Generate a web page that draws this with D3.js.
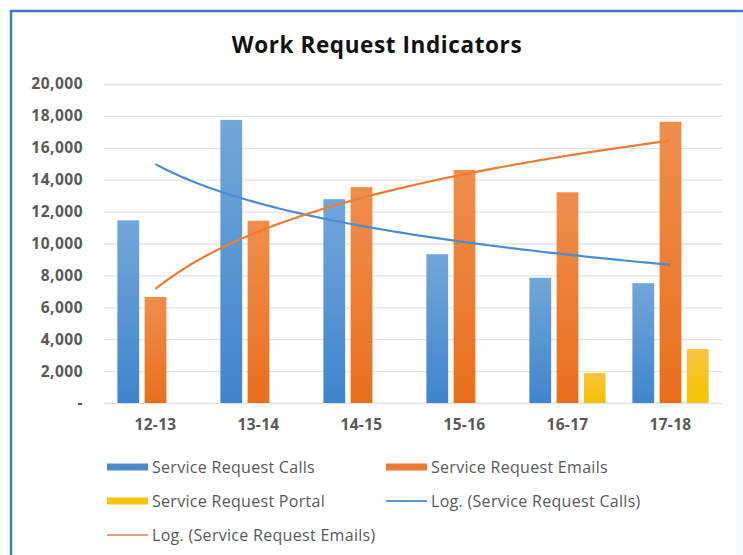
<!DOCTYPE html>
<html>
<head>
<meta charset="utf-8">
<script src="https://cdn.jsdelivr.net/npm/d3@7"></script>
<style>
  body { margin: 0; background: #fff; }
  svg text { font-family: "Open Sans", sans-serif; }
</style>
</head>
<body>
<div id="chart"></div>
<script>
var svgWidth = 743;
var svgHeight = 555;

// data
var years = ["12-13", "13-14", "14-15", "15-16", "16-17", "17-18"];
var calls = [11450, 17750, 12780, 9330, 7850, 7510];
var emails = [6650, 11430, 13530, 14610, 13210, 17630];
var portal = [null, null, null, null, 1880, 3380];
var yTicks = [0, 2000, 4000, 6000, 8000, 10000, 12000, 14000, 16000, 18000, 20000];

var series = [
  { key: "calls", name: "Service Request Calls", values: calls, top: "#72a6da", bottom: "#3f85cd", swatch: "#4a89cc" },
  { key: "emails", name: "Service Request Emails", values: emails, top: "#f08e4d", bottom: "#e96f1c", swatch: "#ec7b33" },
  { key: "portal", name: "Service Request Portal", values: portal, top: "#f8c440", bottom: "#f6c300", swatch: "#f6c412" }
];

var plot = { left: 104, right: 722, top: 84, bottom: 403 };

var svg = d3.select("#chart").append("svg")
  .attr("width", svgWidth).attr("height", svgHeight);

// gradients for the bars
var defs = svg.append("defs");
series.forEach(function(s) {
  var g = defs.append("linearGradient").attr("id", "grad-" + s.key)
    .attr("x1", 0).attr("y1", 0).attr("x2", 0).attr("y2", 1);
  g.append("stop").attr("offset", "0%").attr("stop-color", s.top);
  g.append("stop").attr("offset", "100%").attr("stop-color", s.bottom);
});

// frame: blue line on top and left
svg.append("rect").attr("x", 736).attr("y", 12).attr("width", 7).attr("height", 543).attr("fill", "#f3fbfe");
svg.append("line").attr("x1", 10).attr("x2", 743).attr("y1", 11).attr("y2", 11)
  .attr("stroke", "#3c78c3").attr("stroke-width", 2.5);
svg.append("line").attr("x1", 11).attr("x2", 11).attr("y1", 10).attr("y2", 555)
  .attr("stroke", "#3c78c3").attr("stroke-width", 2.5);

// title
svg.append("text")
  .attr("x", 377).attr("y", 53)
  .attr("text-anchor", "middle")
  .attr("font-size", 22.5).attr("font-weight", "bold").attr("fill", "#111")
  .attr("letter-spacing", 0.6)
  .text("Work Request Indicators");

var x0 = d3.scaleBand().domain(years).range([plot.left, plot.right]).paddingInner(0.26).paddingOuter(0.13);
var x1 = d3.scaleBand().domain(series.map(d => d.key)).range([0, x0.bandwidth()]).paddingInner(0.2);
var y = d3.scaleLinear().domain([0, 20000]).range([plot.bottom, plot.top]);

// gridlines
svg.append("g").selectAll("line").data(yTicks).enter().append("line")
  .attr("x1", plot.left).attr("x2", plot.right)
  .attr("y1", d => y(d) + 0.5).attr("y2", d => y(d) + 0.5)
  .attr("stroke", "#e3e3e3").attr("stroke-width", 1.3);

// y axis labels
var yAxis = d3.axisLeft(y).tickValues(yTicks).tickSize(0).tickPadding(21)
  .tickFormat(d => d === 0 ? "-" : d3.format(",")(d));
var yG = svg.append("g").attr("transform", "translate(" + plot.left + ",0)").call(yAxis);
yG.select(".domain").remove();
yG.selectAll("text").attr("font-size", 15.5).attr("font-weight", "bold").attr("fill", "#595959")
  .attr("letter-spacing", 0.5)
  .attr("font-family", "'Open Sans', sans-serif");

// bars
var groups = svg.append("g").selectAll("g").data(years).enter().append("g")
  .attr("transform", d => "translate(" + x0(d) + ",0)");
groups.selectAll("rect")
  .data((d, i) => series.map(s => ({ key: s.key, v: s.values[i] })).filter(d => d.v != null))
  .enter().append("rect")
  .attr("x", d => x1(d.key))
  .attr("width", x1.bandwidth())
  .attr("y", d => y(d.v))
  .attr("height", d => y(0) - y(d.v))
  .attr("fill", d => "url(#grad-" + d.key + ")");

// x axis labels
var xAxis = d3.axisBottom(x0).tickSize(0).tickPadding(16);
var xG = svg.append("g").attr("transform", "translate(0," + plot.bottom + ")").call(xAxis);
xG.select(".domain").remove();
xG.selectAll("text").attr("font-size", 15.5).attr("font-weight", "bold").attr("fill", "#595959")
  .attr("letter-spacing", 0.3)
  .attr("font-family", "'Open Sans', sans-serif");

// logarithmic trendlines (least squares fit on ln(index))
function logFit(vals) {
  var xs = vals.map((v, i) => Math.log(i + 1));
  var mx = d3.mean(xs), my = d3.mean(vals);
  var sxy = d3.sum(xs, (xv, i) => (xv - mx) * (vals[i] - my));
  var sxx = d3.sum(xs, xv => (xv - mx) * (xv - mx));
  var b = sxy / sxx, a = my - b * mx;
  return function(t) { return a + b * Math.log(t); };
}
var trendX = d3.scaleLinear().domain([1, years.length])
  .range([x0(years[0]) + x0.bandwidth() / 2, x0(years[years.length - 1]) + x0.bandwidth() / 2]);
var ts = d3.range(1, years.length + 0.001, 0.05);
var trends = [
  { name: "Log. (Service Request Calls)", f: logFit(calls), color: "#4c8dd0" },
  { name: "Log. (Service Request Emails)", f: logFit(emails), color: "#ec7d35" }
];
var line = d3.line().curve(d3.curveLinear);
trends.forEach(function(t) {
  svg.append("path")
    .attr("d", line(ts.map(v => [trendX(v), y(t.f(v))])))
    .attr("fill", "none").attr("stroke", t.color).attr("stroke-width", 2.2);
});

// legend
var legendItems = [
  { name: series[0].name, type: "box", color: series[0].swatch, x: 107, y: 467 },
  { name: series[1].name, type: "box", color: series[1].swatch, x: 386, y: 467 },
  { name: series[2].name, type: "box", color: series[2].swatch, x: 107, y: 501 },
  { name: trends[0].name, type: "line", color: "#5d98d4", x: 386, y: 501 },
  { name: trends[1].name, type: "line", color: "#e0a07a", x: 107, y: 535 }
];
var lg = svg.append("g").selectAll("g").data(legendItems).enter().append("g")
  .attr("transform", d => "translate(" + d.x + "," + d.y + ")");
lg.filter(d => d.type === "box").append("rect")
  .attr("x", 0).attr("y", -3.5).attr("width", 41).attr("height", 7).attr("fill", d => d.color);
lg.filter(d => d.type === "line").append("line")
  .attr("x1", 0).attr("x2", 41).attr("y1", 0).attr("y2", 0)
  .attr("stroke", d => d.color).attr("stroke-width", 2.2);
lg.append("text").attr("x", 45).attr("y", 0).attr("dy", "0.35em")
  .attr("font-size", 16).attr("fill", "#595959")
  .attr("letter-spacing", 0.3)
  .text(d => d.name);
</script>
</body>
</html>
